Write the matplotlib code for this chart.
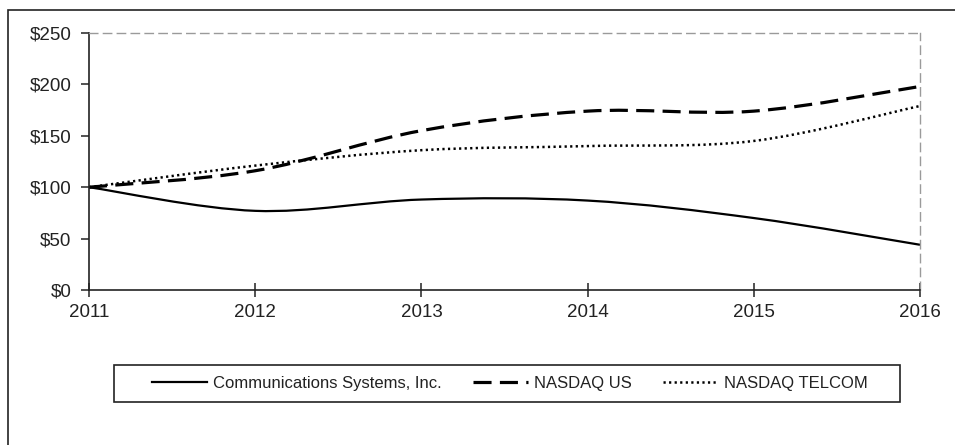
import numpy as np
import matplotlib.pyplot as plt
from matplotlib.path import Path
from matplotlib.patches import PathPatch, Rectangle
from matplotlib.lines import Line2D

plt.rcParams['font.family'] = ['Liberation Sans', 'DejaVu Sans']
plt.rcParams['lines.scale_dashes'] = False

years = [2011, 2012, 2013, 2014, 2015, 2016]
csi = [100, 77, 88, 87, 70, 44]
nasdaq_us = [100, 116, 155, 174, 174, 198]
nasdaq_telcom = [100, 121, 136, 140, 145, 179]

series = [
    ('Communications Systems, Inc.', csi, dict(linestyle='-', linewidth=1.6)),
    ('NASDAQ US', nasdaq_us, dict(linestyle=(0, (13, 6)), linewidth=2.3)),
    ('NASDAQ TELCOM', nasdaq_telcom, dict(linestyle=(0, (1.6, 2.4)), linewidth=1.8)),
]


def smooth_path(xs, ys):
    # Catmull-Rom style bezier, like a spreadsheet "smoothed line"
    pts = np.column_stack([xs, ys]).astype(float)
    ext = np.vstack([pts[0], pts, pts[-1]])
    verts = [pts[0]]
    codes = [Path.MOVETO]
    for i in range(1, len(ext) - 2):
        p0, p1, p2, p3 = ext[i - 1], ext[i], ext[i + 1], ext[i + 2]
        verts += [p1 + (p2 - p0) / 6, p2 - (p3 - p1) / 6, p2]
        codes += [Path.CURVE4] * 3
    return Path(verts, codes)


W, H = 955, 445
fig = plt.figure(figsize=(W / 100, H / 100), dpi=100)
# outer frame of the whole picture
fig.patches.append(Rectangle((8 / W, -0.1), 1.0, 1 - 10 / H + 0.1,
                             transform=fig.transFigure, fill=False,
                             edgecolor='#222222', linewidth=1.2))
# legend box
fig.patches.append(Rectangle((114 / W, 1 - 402 / H), 786 / W, 37 / H,
                             transform=fig.transFigure, fill=False,
                             edgecolor='#222222', linewidth=1.2))

ax = fig.add_axes([89 / W, 1 - 290 / H, 831 / W, 257 / H])

handles = []
for name, vals, style in series:
    ax.add_patch(PathPatch(smooth_path(years, vals), fill=False,
                           edgecolor='black', capstyle='butt', **style))
    handles.append(Line2D([], [], color='black', **style))

ax.set_xlim(2011, 2016)
ax.set_ylim(0, 250)
ax.set_xticks(years)
ax.set_yticks(np.arange(0, 251, 50))
ax.set_yticklabels(['$%d' % v for v in range(0, 251, 50)])

for side in ['top', 'right']:
    ax.spines[side].set_color('#9a9a9a')
    ax.spines[side].set_linestyle((0, (6, 4)))
    ax.spines[side].set_linewidth(1.0)
for side in ['left', 'bottom']:
    ax.spines[side].set_color('#222222')
    ax.spines[side].set_linewidth(1.2)

ax.tick_params(width=1.1, color='#222222', labelsize=13.5, labelcolor='#222222')
ax.tick_params(axis='x', direction='inout', length=10, pad=5)
ax.tick_params(axis='y', direction='out', length=5.5, pad=7)

leg = fig.legend(handles=handles,
                 labels=[s[0] for s in series],
                 loc='center', bbox_to_anchor=(510 / W, 1 - 383.5 / H),
                 ncol=3, frameon=False, fontsize=12,
                 handlelength=3.3, handletextpad=0.35, columnspacing=1.9,
                 borderpad=0.5, borderaxespad=0)
for t in leg.get_texts():
    t.set_color('#222222')

fig.savefig('out.png', dpi=100)
